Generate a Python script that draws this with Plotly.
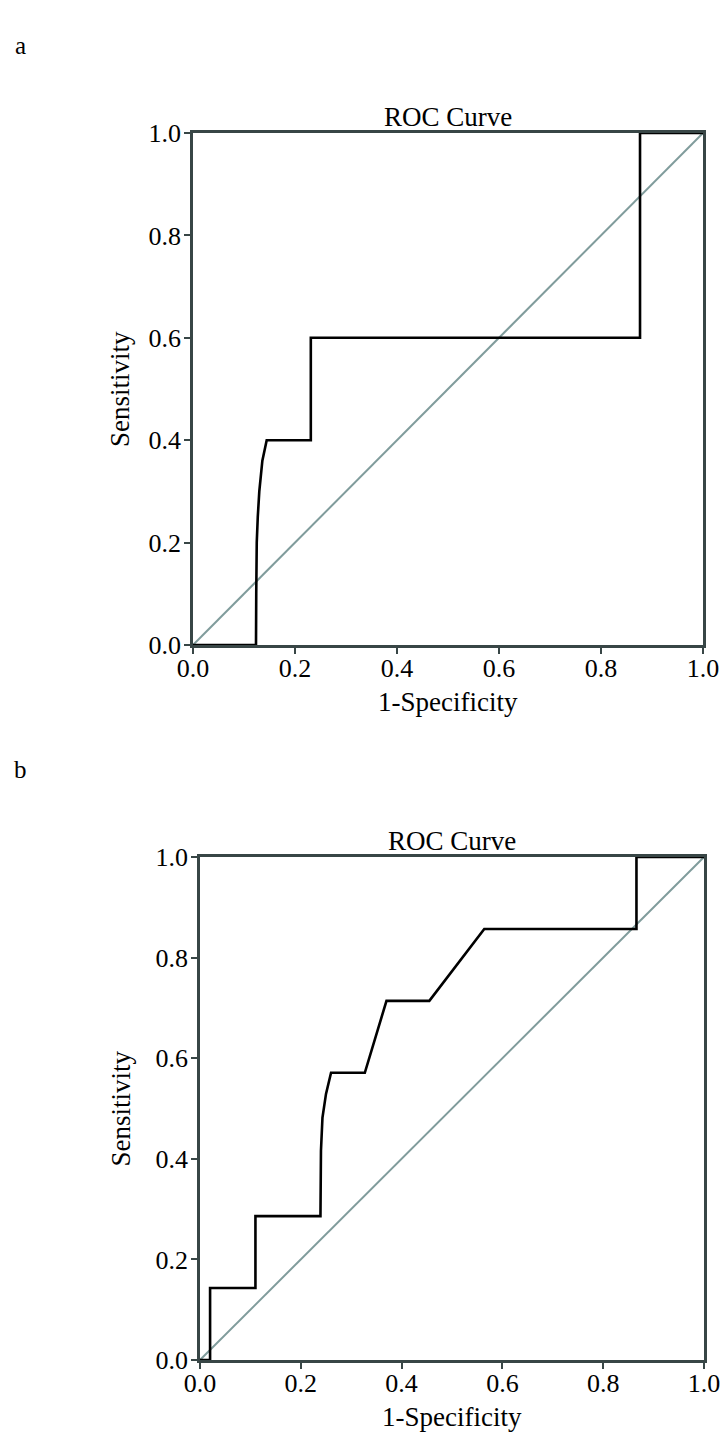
import plotly.graph_objects as go

# ---- data ----
ticks = [0.0, 0.2, 0.4, 0.6, 0.8, 1.0]
tick_text = ["0.0", "0.2", "0.4", "0.6", "0.8", "1.0"]

fpr_a = [0, 0.1235, 0.124, 0.125, 0.127, 0.130, 0.136, 0.1445, 0.231, 0.231, 0.8765, 0.8765, 1.0]
tpr_a = [0, 0, 0.1, 0.2, 0.25, 0.3, 0.36, 0.4, 0.4, 0.6, 0.6, 1.0, 1.0]

fpr_b = [0, 0.02, 0.02, 0.11, 0.11, 0.239, 0.24, 0.243, 0.25, 0.26, 0.327, 0.37, 0.455, 0.564, 0.866, 0.866, 1.0]
tpr_b = [0, 0, 0.143, 0.143, 0.286, 0.286, 0.416, 0.482, 0.529, 0.571, 0.571, 0.714, 0.714, 0.857, 0.857, 1.0, 1.0]

ref_x = [0, 1]
ref_y = [0, 1]

W, H = 724, 1443
FONT = "Liberation Serif, Times New Roman, serif"
FRAME = "#384646"
DIAG = "#809c9c"

def px(x):
    return x / W

def py(y):
    return 1 - y / H

# panel pixel boxes in window coordinates (left, right, top, bottom)
boxes = {"a": (193, 703, 133, 645), "b": (200, 704, 857, 1360)}

fig = go.Figure()

def add_panel(idx, fx, fy, box, label):
    xa = "x" if idx == 1 else "x2"
    ya = "y" if idx == 1 else "y2"
    fig.add_trace(go.Scatter(x=ref_x, y=ref_y, mode="lines", xaxis=xa, yaxis=ya,
                             line=dict(color=DIAG, width=2), showlegend=False, hoverinfo="skip"))
    fig.add_trace(go.Scatter(x=fx, y=fy, mode="lines", xaxis=xa, yaxis=ya,
                             line=dict(color="black", width=2.6), showlegend=False))
    l, r, t, b = box
    axcommon = dict(range=[0, 1], tickvals=ticks, ticktext=tick_text, showgrid=False, zeroline=False,
                    showline=True, linecolor=FRAME, linewidth=2.5, mirror=True,
                    ticks="outside", ticklen=6, tickwidth=2, tickcolor=FRAME,
                    tickfont=dict(family=FONT, size=26, color="black"), automargin=False,
                    fixedrange=True)
    xkey = "xaxis" if idx == 1 else "xaxis2"
    ykey = "yaxis" if idx == 1 else "yaxis2"
    fig.update_layout(**{
        xkey: dict(axcommon, domain=[px(l), px(r)], anchor=ya, ticklabelstandoff=-8),
        ykey: dict(axcommon, domain=[py(b), py(t)], anchor=xa, ticklabelstandoff=-2),
    })
    cx = (l + r) / 2
    cy = (t + b) / 2
    anns = [
        dict(text="ROC Curve", x=px(cx), y=py(t - 16), size=27),
        dict(text="1-Specificity", x=px(cx), y=py(b + 57), size=27),
        dict(text="Sensitivity", x=px(120), y=py(cy), size=27, angle=-90),
        dict(text=label, x=px(20), y=py(t - 88), size=25),
    ]
    for a in anns:
        fig.add_annotation(text=a["text"], x=a["x"], y=a["y"], xref="paper", yref="paper",
                           showarrow=False, xanchor="center", yanchor="middle",
                           textangle=a.get("angle", 0),
                           font=dict(family=FONT, size=a["size"], color="black"))

add_panel(1, fpr_a, tpr_a, boxes["a"], "a")
add_panel(2, fpr_b, tpr_b, boxes["b"], "b")

fig.update_layout(width=W, height=H, margin=dict(l=0, r=0, t=0, b=0),
                  paper_bgcolor="white", plot_bgcolor="white", showlegend=False)

fig.write_html("out.html", config={"displayModeBar": False},
               post_script="document.body.style.margin='0';document.body.style.overflow='hidden';")
